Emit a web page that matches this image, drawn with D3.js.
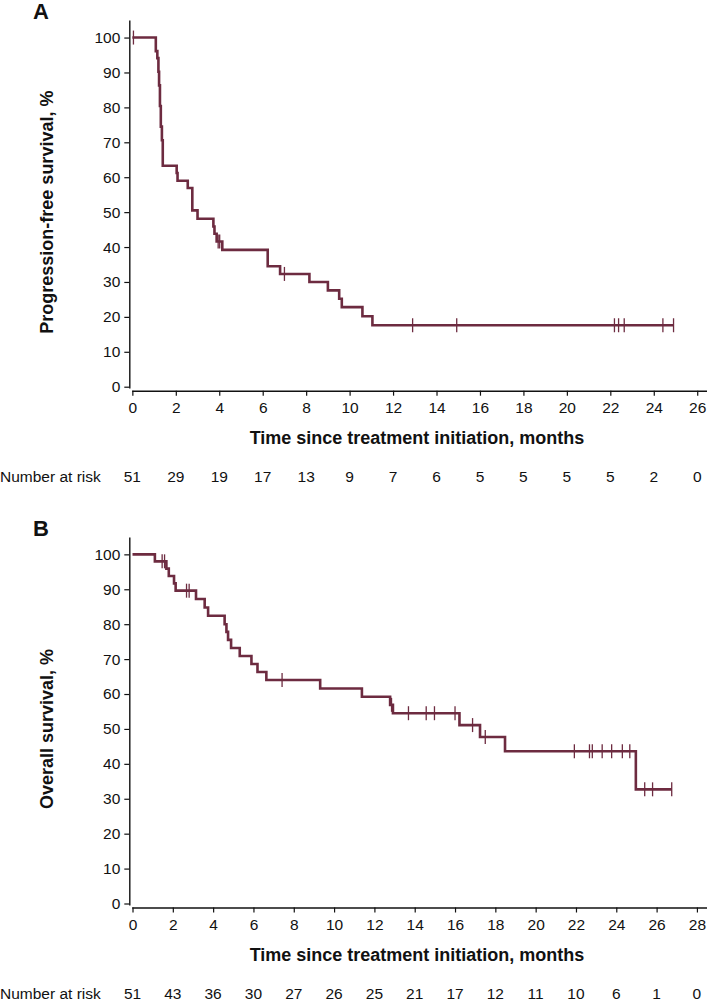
<!DOCTYPE html>
<html>
<head>
<meta charset="utf-8">
<script src="https://cdn.jsdelivr.net/npm/d3@7"></script>
<style>
  body { margin: 0; background: #fff; }
  svg text { font-family: "Liberation Sans", Arial, sans-serif; fill: #111; }
</style>
</head>
<body>
<div id="chart"></div>
<script>
// panel A - progression-free survival
var pfsTimes = [0, 1.08, 1.15, 1.2, 1.23, 1.27, 1.31, 1.36, 1.4, 2.04, 2.08, 2.55, 2.76, 3.0, 3.73, 3.78, 3.88, 4.14, 6.23, 6.8, 8.15, 9.0, 9.52, 9.64, 10.59, 11.05];
var pfsSurv  = [100, 96.1, 94.1, 90.2, 86.3, 80.4, 74.5, 70.6, 63.3, 61.2, 59.0, 56.9, 50.5, 48.1, 45.9, 43.8, 41.6, 39.2, 34.5, 32.3, 30.0, 27.6, 25.2, 22.8, 20.2, 17.6];
var pfsCensor = [0.05, 3.95, 4.02, 7.0, 12.9, 14.93, 22.19, 22.38, 22.64, 24.42, 24.91];
var pfsEnd = 24.91;
var pfsTicks = [0, 2, 4, 6, 8, 10, 12, 14, 16, 18, 20, 22, 24, 26];
var pfsRisk = [51, 29, 19, 17, 13, 9, 7, 6, 5, 5, 5, 5, 2, 0];

// panel B - overall survival
var osTimes = [0, 1.11, 1.68, 1.8, 2.06, 2.14, 3.15, 3.58, 3.75, 4.57, 4.66, 4.74, 4.89, 5.32, 5.9, 6.2, 6.64, 9.31, 11.38, 12.78, 12.92, 16.22, 17.24, 18.48, 24.97];
var osSurv  = [100, 98.0, 95.9, 93.8, 91.7, 89.6, 87.2, 84.8, 82.4, 80.0, 77.8, 75.5, 73.2, 70.9, 68.6, 66.3, 64.0, 61.6, 59.2, 56.9, 54.5, 51.1, 47.7, 43.6, 32.7];
var osCensor = [1.47, 1.59, 2.68, 2.81, 7.42, 12.85, 13.69, 14.57, 14.98, 16.0, 16.87, 17.5, 21.92, 22.67, 22.81, 23.3, 23.77, 24.3, 24.67, 25.41, 25.8, 26.75];
var osEnd = 26.75;
var osTicks = [0, 2, 4, 6, 8, 10, 12, 14, 16, 18, 20, 22, 24, 26, 28];
var osRisk = [51, 43, 36, 30, 27, 26, 25, 21, 17, 12, 11, 10, 6, 1, 0];

var yTicks = [0, 10, 20, 30, 40, 50, 60, 70, 80, 90, 100];
var curveColor = "#6d2b40";

var svg = d3.select("#chart")
  .append("svg")
    .attr("width", 707)
    .attr("height", 1003);

function drawPanel(p) {
  var g = svg.append("g").attr("transform", "translate(0," + p.top + ")");

  var x = d3.scaleLinear().domain([p.xMin, p.xMax]).range([131.7, 707]);
  var y = d3.scaleLinear().domain([-0.4, 105]).range([351.4, -16.6]);

  // x axis
  var xa = g.append("g")
    .attr("transform", "translate(0,354)")
    .call(d3.axisBottom(x).tickValues(p.ticks).tickSize(5).tickSizeOuter(0).tickPadding(6));
  // y axis
  var ya = g.append("g")
    .attr("transform", "translate(129.3,0)")
    .call(d3.axisLeft(y).tickValues(yTicks).tickSize(5).tickSizeOuter(0).tickPadding(4));

  [xa, ya].forEach(function(a) {
    a.select(".domain").attr("stroke", "#111").attr("stroke-width", 1.4);
    a.selectAll(".tick line").attr("stroke", "#111").attr("stroke-width", 1.2);
    a.selectAll("text").style("font-size", "15.5px").attr("fill", "#111");
  });

  // step curve
  var pts = p.times.map(function(t, i) { return [t, p.surv[i]]; });
  pts.push([p.end, p.surv[p.surv.length - 1]]);
  var line = d3.line()
    .x(function(d) { return x(d[0]); })
    .y(function(d) { return y(d[1]); })
    .curve(d3.curveStepAfter);
  g.append("path")
    .datum(pts)
    .attr("fill", "none")
    .attr("stroke", curveColor)
    .attr("stroke-width", 2.6)
    .attr("d", line);

  // censor marks
  function survAt(t) {
    var s = 100;
    for (var i = 0; i < p.times.length; i++) {
      if (p.times[i] <= t) s = p.surv[i];
    }
    return s;
  }
  g.selectAll(".cens")
    .data(p.censor)
    .enter()
    .append("line")
      .attr("x1", function(d) { return x(d); })
      .attr("x2", function(d) { return x(d); })
      .attr("y1", function(d) { return y(survAt(d)) - 7; })
      .attr("y2", function(d) { return y(survAt(d)) + 7; })
      .attr("stroke", curveColor)
      .attr("stroke-width", 1.3);

  // labels
  g.append("text")
    .attr("x", 33).attr("y", -18)
    .style("font-size", "22px").style("font-weight", "bold")
    .text(p.letter);

  g.append("text")
    .attr("transform", "translate(53," + y(50) + ") rotate(-90)")
    .attr("text-anchor", "middle")
    .style("font-size", "18px").style("font-weight", "bold")
    .text(p.yTitle);

  g.append("text")
    .attr("x", 417).attr("y", 407)
    .attr("text-anchor", "middle")
    .style("font-size", "18px").style("font-weight", "bold")
    .text("Time since treatment initiation, months");

  g.append("text")
    .attr("x", 0).attr("y", 445)
    .style("font-size", "15.5px")
    .text("Number at risk");

  g.selectAll(".risk")
    .data(p.risk)
    .enter()
    .append("text")
      .attr("x", function(d, i) { return x(p.ticks[i]); })
      .attr("y", 445)
      .attr("text-anchor", "middle")
      .style("font-size", "15.5px")
      .text(function(d) { return d; });
}

drawPanel({
  top: 36.7, letter: "A", yTitle: "Progression-free survival, %",
  xMin: -0.03, xMax: 26.45, ticks: pfsTicks, risk: pfsRisk,
  times: pfsTimes, surv: pfsSurv, censor: pfsCensor, end: pfsEnd
});

drawPanel({
  top: 553.5, letter: "B", yTitle: "Overall survival, %",
  xMin: -0.04, xMax: 28.5, ticks: osTicks, risk: osRisk,
  times: osTimes, surv: osSurv, censor: osCensor, end: osEnd
});
</script>
</body>
</html>
